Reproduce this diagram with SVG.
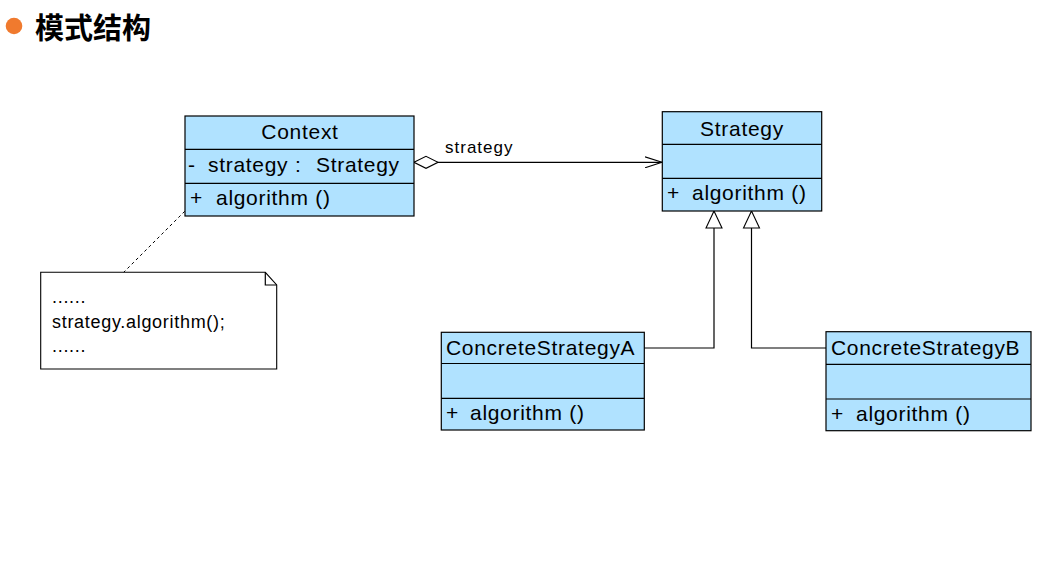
<svg xmlns="http://www.w3.org/2000/svg" width="1061" height="567" viewBox="0 0 1061 567">
<defs>
<style>
.box{fill:#B0E2FF;stroke:#000;stroke-width:1.2}
.ln{stroke:#000;stroke-width:1.2;fill:none}
.t{font-family:"Liberation Sans",Arial,sans-serif;font-size:21px;letter-spacing:0.7px;fill:#000}
.n{font-family:"Liberation Sans",Arial,sans-serif;font-size:18px;letter-spacing:0.7px;fill:#000}
.lbl{font-family:"Liberation Sans",Arial,sans-serif;font-size:17px;letter-spacing:1px;fill:#000}
</style>
<marker id="open" viewBox="0 0 18 12" refX="17" refY="6" markerWidth="18" markerHeight="12" markerUnits="userSpaceOnUse" orient="auto">
<path d="M0,0.5 L17,6 L0,11.5" fill="none" stroke="#000" stroke-width="1.1"/>
</marker>
<marker id="diamond" viewBox="0 0 26 14" refX="1" refY="7" markerWidth="26" markerHeight="14" markerUnits="userSpaceOnUse" orient="auto">
<path d="M1,7 L13,1 L25,7 L13,13 Z" fill="#fff" stroke="#000" stroke-width="1.1"/>
</marker>
<marker id="tri" viewBox="0 0 20 20" refX="19" refY="10" markerWidth="20" markerHeight="20" markerUnits="userSpaceOnUse" orient="auto">
<path d="M2,2 L19,10 L2,18 Z" fill="#fff" stroke="#000" stroke-width="1.1"/>
</marker>
</defs>
<rect width="1061" height="567" fill="#fff"/>

<g id="header">
<circle cx="14" cy="26" r="8.3" fill="#F07A2E"/>
<text x="35" y="39" style="font-family:'Noto Sans CJK SC','Noto Sans',sans-serif;font-size:29px;font-weight:bold;fill:#000">模式结构</text>
</g>

<g id="connectors">
<line class="ln" x1="414" y1="162.3" x2="662" y2="162.3" marker-start="url(#diamond)" marker-end="url(#open)"/>
<text class="lbl" x="445" y="153">strategy</text>
<polyline class="ln" points="644,348 714,348 714,211" marker-end="url(#tri)"/>
<polyline class="ln" points="826,348 751.5,348 751.5,211" marker-end="url(#tri)"/>
<line x1="119" y1="277" x2="192" y2="204" stroke="#000" stroke-width="1" stroke-dasharray="3,3"/>
</g>

<g id="Context">
<rect class="box" x="185" y="116" width="229" height="100"/>
<line class="ln" x1="185" y1="149.3" x2="414" y2="149.3"/>
<line class="ln" x1="185" y1="183.3" x2="414" y2="183.3"/>
<text class="t" x="300" y="139" text-anchor="middle">Context</text>
<text class="t" y="172"><tspan x="188">-</tspan><tspan x="208">strategy</tspan><tspan x="295">:</tspan><tspan x="316">Strategy</tspan></text>
<text class="t" y="205"><tspan x="190">+</tspan><tspan x="216">algorithm ()</tspan></text>
</g>

<g id="Strategy">
<rect class="box" x="662.3" y="111.7" width="159.4" height="99.3"/>
<line class="ln" x1="662.3" y1="144.3" x2="821.7" y2="144.3"/>
<line class="ln" x1="662.3" y1="178.3" x2="821.7" y2="178.3"/>
<text class="t" x="742" y="136" text-anchor="middle">Strategy</text>
<text class="t" y="200"><tspan x="667">+</tspan><tspan x="692">algorithm ()</tspan></text>
</g>

<g id="ConcreteStrategyA">
<rect class="box" x="441.3" y="332.3" width="203" height="97.7"/>
<line class="ln" x1="441.3" y1="363.5" x2="644.3" y2="363.5"/>
<line class="ln" x1="441.3" y1="398.3" x2="644.3" y2="398.3"/>
<text class="t" x="446" y="355">ConcreteStrategyA</text>
<text class="t" y="420"><tspan x="446">+</tspan><tspan x="470">algorithm ()</tspan></text>
</g>

<g id="ConcreteStrategyB">
<rect class="box" x="826" y="331.7" width="205" height="99"/>
<line class="ln" x1="826" y1="364.3" x2="1031" y2="364.3"/>
<line class="ln" x1="826" y1="399" x2="1031" y2="399"/>
<text class="t" x="831" y="355">ConcreteStrategyB</text>
<text class="t" y="421"><tspan x="831">+</tspan><tspan x="856">algorithm ()</tspan></text>
</g>

<g id="note">
<path d="M40.7,272.3 L265.3,272.3 L276.7,285 L276.7,369 L40.7,369 Z" fill="#fff" stroke="#000" stroke-width="1.1"/>
<polyline class="ln" points="265.3,272.3 265.3,285 276.7,285" stroke-width="1"/>
<text class="n" x="52" y="303">......</text>
<text class="n" x="52" y="328">strategy.algorithm();</text>
<text class="n" x="52" y="352">......</text>
</g>
</svg>
